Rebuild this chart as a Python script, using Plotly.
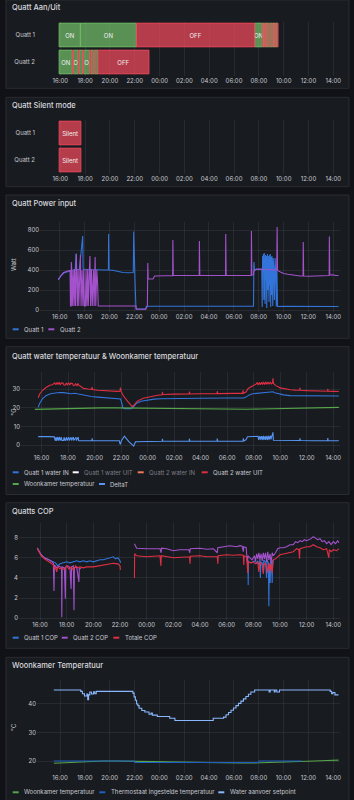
import plotly.graph_objects as go
from datetime import datetime, timedelta

# ---------------- data ----------------
state_rows = ["Quatt 1", "Quatt 2"]

q1_state_times = ["15:54", "17:37", "22:08", "07:40", "08:16", "08:20", "08:28", "08:31", "08:40",
                  "08:43", "08:52", "08:56", "09:05", "09:08", "09:18", "09:21", "09:28"]
q1_states = ["ON", "ON", "OFF", "ON", "OFF", "ON", "OFF", "ON", "OFF",
             "ON", "OFF", "ON", "OFF", "ON", "OFF", "ON", "OFF"]
q1_state_labels = ["ON", "ON", "OFF", "ON", "", "", "", "", "", "", "", "", "", "", "", "", ""]
q1_state_end = "09:33"

q2_state_times = ["15:54", "16:58", "17:03", "17:26", "17:31", "17:48", "17:53", "18:22",
                  "18:29", "18:41", "18:46", "19:01"]
q2_states = ["ON", "OFF", "ON", "OFF", "ON", "OFF", "ON", "OFF", "ON", "OFF", "ON", "OFF"]
q2_state_labels = ["ON", "", "O", "", "", "", "O", "", "", "", "", "OFF"]
q2_state_end = "23:09"

silent_start = ["15:54", "15:54"]
silent_end = ["17:40", "17:40"]
silent_label = "Silent"

pw_q1_t = ["15:53", "16:05", "16:20", "16:40", "17:00", "17:15", "17:19", "17:21", "17:35", "17:51",
           "17:53", "18:15", "18:40", "19:10", "19:40", "19:55", "19:56", "19:58", "20:15", "20:30",
           "20:45", "21:05", "21:30", "21:55", "21:57", "21:59", "22:01", "22:04", "22:08", "22:30",
           "22:55", "22:58", "00:00", "02:00", "04:00", "06:00", "07:35", "07:37", "07:40", "07:50",
           "08:05", "08:15", "08:17", "08:19", "08:21", "08:23", "08:25", "08:27", "08:29", "08:31",
           "08:33", "08:35", "08:37", "08:39", "08:42", "08:44", "08:46", "08:48", "08:50", "08:52",
           "08:54", "08:56", "08:58", "09:00", "09:02", "09:04", "09:06", "09:08", "09:10", "09:13",
           "09:16", "09:19", "09:22", "09:25", "09:28", "09:31", "10:00", "12:00", "14:25"]
pw_q1_v = [300, 340, 370, 388, 398, 402, 565, 405, 408, 740,
           410, 405, 402, 400, 400, 402, 760, 400, 398, 390,
           380, 375, 372, 375, 785, 520, 480, 250, 10, 8,
           10, 38, 38, 37, 38, 37, 38, 480, 400, 410,
           405, 410, 30, 540, 400, 560, 100, 570, 410, 60,
           550, 300, 540, 20, 560, 200, 540, 400, 80, 550,
           250, 560, 30, 530, 150, 540, 410, 40, 520, 400,
           100, 520, 400, 35, 420, 35, 36, 35, 35]

pw_q2_t = ["15:53", "16:05", "16:17", "16:35", "16:50", "16:52", "16:55", "16:56", "16:58", "17:01",
           "17:05", "17:09", "17:12", "17:16", "17:20", "17:22", "17:25", "17:29", "17:32", "17:37",
           "17:40", "17:43", "17:48", "17:52", "17:56", "17:59", "18:04", "18:07", "18:11", "18:15",
           "18:18", "18:23", "18:26", "18:29", "18:33", "18:37", "18:43", "18:46", "18:51", "18:54",
           "18:59", "19:03", "19:06", "20:00", "21:00", "22:08", "22:10", "22:55", "23:03", "23:05",
           "23:07", "23:30", "23:38", "00:30", "01:05", "01:06", "01:08", "02:00", "03:13", "03:14",
           "03:16", "04:30", "05:20", "05:21", "05:23", "06:30", "07:24", "07:25", "07:27", "07:35",
           "07:37", "07:45", "08:00", "08:30", "09:00", "09:27", "09:29", "09:31", "09:45", "10:00",
           "10:20", "10:40", "11:00", "11:20", "11:34", "11:35", "11:37", "12:00", "12:30", "13:00",
           "13:20", "13:40", "13:41", "13:43", "14:00", "14:10", "14:25"]
pw_q2_v = [307, 345, 373, 388, 395, 40, 40, 480, 400, 40,
           400, 40, 410, 40, 560, 400, 40, 410, 40, 405,
           550, 40, 400, 40, 410, 40, 40, 400, 40, 410,
           40, 400, 540, 40, 410, 40, 400, 40, 530, 40,
           400, 260, 40, 40, 40, 40, 8, 8, 40, 470,
           310, 310, 340, 342, 343, 700, 345, 345, 346, 690,
           346, 345, 345, 760, 345, 345, 346, 790, 350, 352,
           390, 405, 410, 405, 400, 400, 830, 395, 380, 365,
           358, 350, 342, 340, 340, 680, 340, 338, 340, 338,
           342, 345, 735, 350, 352, 345, 345]

wt_q1in_t = ["15:45", "15:52", "16:05", "16:20", "16:40", "17:00", "17:20", "17:40", "18:00", "18:15",
             "18:30", "18:45", "19:00", "19:20", "19:45", "20:15", "20:45", "21:15", "21:50", "21:58",
             "22:03", "22:08", "22:15", "22:45", "22:55", "23:10", "23:30", "00:00", "00:30", "01:00",
             "02:00", "04:00", "06:00", "07:15", "07:25", "07:40", "07:55", "08:15", "08:45", "09:15",
             "09:28", "09:35", "09:50", "10:15", "10:45", "11:30", "12:30", "13:30", "14:25"]
wt_q1in_v = [20.3, 22.5, 25.0, 26.5, 27.6, 28.1, 28.3, 28.2, 28.0, 27.6,
             27.9, 27.5, 27.3, 26.6, 26.1, 25.8, 25.5, 25.3, 25.1, 24.8,
             22.5, 20.0, 19.6, 19.6, 20.5, 22.5, 23.6, 24.3, 24.7, 24.9,
             25.1, 25.2, 25.3, 25.3, 25.8, 27.0, 27.6, 27.8, 28.0, 28.3,
             28.7, 28.2, 27.6, 27.0, 26.6, 26.5, 26.4, 26.4, 26.4]

wt_q2uit_t = ["15:45", "15:52", "16:05", "16:20", "16:40", "16:50", "17:00", "17:05", "17:10", "17:15",
              "17:20", "17:25", "17:30", "17:38", "17:42", "17:48", "17:52", "17:57", "18:02", "18:08",
              "18:12", "18:20", "18:24", "18:30", "18:34", "18:40", "18:45", "18:50", "18:55", "19:10",
              "19:30", "19:47", "19:49", "19:51", "20:15", "20:45", "21:15", "21:45", "21:55", "21:57",
              "22:00", "22:10", "22:30", "22:50", "23:00", "23:15", "23:40", "00:15", "00:45", "01:06",
              "01:07", "01:09", "02:00", "03:08", "03:09", "03:11", "04:00", "05:14", "05:15", "05:17",
              "06:30", "07:10", "07:12", "07:14", "07:25", "07:35", "07:50", "08:00", "08:10", "08:15",
              "08:20", "08:25", "08:30", "08:35", "08:40", "08:45", "08:50", "08:55", "09:00", "09:05",
              "09:10", "09:15", "09:20", "09:25", "09:27", "09:29", "09:40", "10:00", "10:20", "10:45",
              "11:10", "11:28", "11:29", "11:31", "12:00", "12:30", "13:00", "13:34", "13:35", "13:37",
              "14:00", "14:25"]
wt_q2uit_v = [25.5, 27.5, 29.5, 31.0, 32.3, 32.5, 33.5, 32.5, 33.7, 32.6,
              33.8, 32.4, 33.5, 33.3, 32.2, 32.3, 33.4, 32.5, 33.6, 32.3,
              33.3, 33.2, 32.0, 32.2, 33.0, 32.0, 33.2, 32.0, 31.8, 30.5,
              30.2, 30.0, 31.2, 29.9, 29.5, 29.2, 29.0, 28.9, 29.0, 31.0,
              29.0, 26.5, 23.5, 20.7, 21.8, 23.8, 25.2, 26.2, 26.8, 27.1,
              28.7, 27.2, 27.4, 27.5, 28.8, 27.5, 27.6, 27.7, 29.0, 27.7,
              27.8, 27.8, 29.5, 27.9, 28.5, 30.5, 31.5, 32.0, 32.8, 33.5,
              32.4, 33.7, 32.5, 33.8, 32.6, 33.9, 32.6, 34.0, 32.8, 34.0,
              32.8, 34.0, 32.9, 33.5, 36.0, 33.2, 32.0, 30.8, 30.2, 29.8,
              29.6, 29.5, 30.8, 29.5, 29.3, 29.2, 29.1, 29.0, 30.3, 29.0,
              28.9, 28.8]

room_t = ["15:30", "16:30", "17:30", "18:30", "19:30", "20:30", "21:30", "22:30", "23:30", "00:30",
          "01:30", "02:30", "03:30", "04:30", "05:30", "06:30", "07:30", "08:30", "09:30", "10:30",
          "11:30", "12:30", "13:30", "14:25"]
room_v = [19.2, 19.4, 19.7, 19.9, 20.0, 20.0, 20.0, 19.9, 19.8, 19.7,
          19.6, 19.5, 19.4, 19.4, 19.3, 19.3, 19.3, 19.4, 19.6, 19.7,
          19.9, 20.0, 20.2, 20.3]

delta_t = ["15:45", "16:00", "16:30", "16:58", "17:00", "17:02", "17:06", "17:08", "17:14", "17:16",
           "17:22", "17:24", "17:30", "17:32", "17:40", "17:42", "17:47", "17:54", "17:56", "18:04",
           "18:06", "18:14", "18:16", "18:24", "18:26", "18:36", "18:38", "18:46", "18:48", "18:55",
           "19:30", "19:48", "19:49", "19:51", "20:30", "21:30", "21:52", "21:56", "22:02", "22:15",
           "22:22", "22:35", "22:50", "22:57", "23:05", "00:00", "01:06", "01:07", "01:09", "03:08",
           "03:09", "03:11", "05:14", "05:15", "05:17", "07:12", "07:13", "07:15", "07:25", "07:32",
           "08:00", "08:10", "08:20", "08:22", "08:28", "08:30", "08:36", "08:38", "08:44", "08:46",
           "08:52", "08:54", "09:00", "09:02", "09:08", "09:10", "09:16", "09:18", "09:24", "09:27",
           "09:29", "10:00", "11:00", "11:28", "11:29", "11:31", "12:30", "13:34", "13:35", "13:37",
           "14:25"]
delta_v = [4.5, 4.6, 4.5, 4.4, 3.2, 2.3, 4.3, 2.3, 4.3, 2.4,
           4.3, 2.4, 4.2, 2.5, 2.5, 4.2, 2.3, 4.2, 2.4, 4.2,
           2.4, 4.2, 2.5, 4.3, 2.4, 4.2, 2.4, 4.3, 2.3, 2.3,
           2.3, 2.3, 3.6, 2.3, 2.3, 2.3, 2.3, 0.3, 2.5, 4.8,
           3.5, 1.8, 0.2, -0.6, 1.8, 2.0, 2.0, 3.3, 2.0, 2.0,
           3.4, 2.0, 2.0, 3.5, 2.0, 2.1, 3.6, 2.2, 2.8, 4.5,
           4.6, 4.7, 4.7, 2.8, 4.8, 2.9, 4.8, 2.7, 4.9, 2.8,
           4.8, 2.8, 4.9, 2.7, 4.9, 2.9, 5.0, 3.0, 5.0, 6.8,
           2.6, 2.6, 2.4, 2.4, 3.6, 2.4, 2.3, 2.3, 3.7, 2.3,
           2.3]

cop_q1_t = ["15:48", "15:55", "16:05", "16:20", "16:40", "17:00", "17:10", "17:20", "17:30", "17:45",
            "18:00", "18:15", "18:30", "18:45", "19:00", "19:15", "19:30", "19:45", "20:00", "20:15",
            "20:30", "20:45", "21:00", "21:15", "21:30", "21:40", "21:50", "22:00", "22:03", "03:00",
            "07:36", "07:37", "07:38", "07:50", "08:00", "08:10", "08:15", "08:20", "08:25", "08:30",
            "08:32", "08:34", "08:40", "08:45", "08:47", "08:55", "09:00", "09:02", "09:08", "09:10",
            "09:12", "09:16", "09:18", "09:22", "09:25", "09:27", "09:31"]
cop_q1_v = [6.9, 6.6, 6.3, 6.0, 5.8, 5.6, 5.5, 5.2, 5.4, 5.5,
            5.6, 5.5, 5.6, 5.7, 5.6, 5.7, 5.6, 5.7, 5.6, 5.7,
            5.8, 5.8, 5.9, 6.0, 6.1, 5.9, 6.0, 5.7, 5.5, None,
            5.8, 3.3, 5.6, 5.5, 5.6, 5.7, 5.4, 5.7, 5.3, 5.8,
            4.0, 5.6, 5.5, 4.6, 5.8, 5.6, 4.0, 5.8, 5.5, 1.2,
            5.4, 3.5, 5.7, 5.5, 3.5, 5.8, 5.6]

cop_q2_t = ["15:48", "15:55", "16:05", "16:20", "16:40", "17:00", "17:03", "17:05", "17:15", "17:25",
            "17:37", "17:38", "17:40", "17:50", "17:54", "17:56", "18:05", "18:15", "18:20", "18:22",
            "18:30", "18:33", "18:35", "18:45", "18:55", "18:57", "19:05", "21:00", "23:05", "23:07",
            "23:15", "00:00", "00:45", "01:00", "01:05", "01:07", "01:30", "02:00", "02:30", "03:10",
            "03:14", "03:16", "04:00", "04:30", "05:00", "05:18", "05:20", "05:40", "06:15", "06:45",
            "07:00", "07:10", "07:15", "07:17", "07:28", "07:33", "07:36", "07:45", "07:55", "08:05",
            "08:10", "08:15", "08:20", "08:25", "08:30", "08:35", "08:40", "08:45", "08:50", "08:55",
            "09:00", "09:05", "09:10", "09:15", "09:20", "09:25", "09:30", "09:40", "09:50", "10:00",
            "10:15", "10:30", "10:45", "11:00", "11:10", "11:20", "11:30", "11:40", "11:50", "12:00",
            "12:10", "12:20", "12:30", "12:40", "12:50", "13:00", "13:10", "13:20", "13:30", "13:40",
            "13:50", "14:00", "14:10", "14:20", "14:25"]
cop_q2_v = [7.0, 6.7, 6.3, 6.0, 5.8, 5.5, 2.7, 5.3, 5.0, 5.2,
            5.0, 0.1, 5.1, 5.0, 1.95, 5.1, 5.2, 5.0, 2.9, 5.1,
            5.2, 0.8, 5.0, 5.1, 3.6, 5.0, 4.9, None, 7.4, 7.3,
            6.95, 6.9, 6.95, 6.9, 6.5, 6.95, 6.9, 6.7, 6.8, 6.8,
            6.5, 6.9, 6.95, 6.85, 6.9, 6.5, 7.0, 7.1, 7.2, 7.1,
            7.2, 7.15, 6.6, 7.1, 7.0, 5.5, 6.2, 6.0, 5.8, 6.2,
            5.7, 6.4, 5.9, 6.5, 5.8, 6.4, 5.7, 6.5, 5.9, 6.5,
            5.6, 6.6, 5.8, 6.4, 5.5, 6.5, 6.2, 6.5, 6.9, 7.0,
            7.0, 7.1, 7.3, 7.3, 7.6, 7.5, 7.7, 7.6, 7.8, 7.7,
            7.8, 7.9, 8.1, 7.9, 7.8, 7.9, 7.6, 7.7, 7.4, 7.6,
            7.3, 7.6, 7.4, 7.7, 7.5]

cop_tot_t = ["15:48", "15:55", "16:05", "16:20", "16:40", "17:00", "17:05", "17:10", "17:15", "17:20",
             "17:30", "17:40", "17:50", "18:00", "18:10", "18:20", "18:30", "18:40", "18:50", "19:00",
             "19:15", "19:30", "20:00", "20:30", "21:00", "21:30", "21:50", "22:00", "22:02", "22:30",
             "23:05", "23:06", "23:15", "00:00", "00:30", "01:00", "01:04", "01:06", "02:00", "02:30",
             "03:13", "03:15", "03:17", "04:00", "04:30", "05:18", "05:20", "05:22", "06:00", "06:30",
             "07:00", "07:15", "07:17", "07:19", "07:30", "07:35", "07:37", "07:50", "08:00", "08:10",
             "08:20", "08:25", "08:30", "08:40", "08:45", "08:50", "09:00", "09:05", "09:10", "09:15",
             "09:20", "09:25", "09:30", "09:40", "10:00", "10:20", "10:45", "11:00", "11:15", "11:25",
             "11:28", "11:30", "11:45", "12:00", "12:15", "12:30", "12:45", "13:00", "13:15", "13:30",
             "13:40", "13:42", "13:50", "14:00", "14:15", "14:25"]
cop_tot_v = [6.9, 6.6, 6.2, 5.9, 5.6, 5.3, 4.9, 5.0, 4.6, 5.1,
             4.9, 5.0, 4.8, 5.2, 4.9, 5.1, 4.8, 5.2, 5.0, 5.1,
             5.0, 5.1, 5.1, 5.2, 5.3, 5.45, 5.4, 5.2, 4.8, None,
             4.0, 6.4, 6.2, 6.1, 6.15, 6.2, 5.2, 6.2, 6.0, 6.05,
             6.1, 5.4, 6.15, 6.2, 6.1, 6.1, 5.4, 6.2, 6.3, 6.25,
             6.3, 6.25, 5.3, 6.2, 6.1, 4.5, 5.6, 5.5, 5.6, 5.4,
             5.6, 4.6, 5.6, 5.3, 4.4, 5.5, 5.2, 4.5, 5.5, 4.7,
             5.4, 4.5, 5.8, 5.9, 6.3, 6.4, 6.5, 6.6, 6.9, 6.8,
             5.9, 6.9, 7.0, 7.1, 7.1, 7.3, 7.1, 7.0, 6.8, 6.9,
             6.0, 6.8, 6.6, 6.8, 6.7, 6.9]

thermo_t = ["15:30", "22:00", "22:01", "08:00", "08:01", "11:30"]
thermo_v = [20.0, 20.0, 19.5, 19.5, 20.0, 20.0]

setp_t = ["15:30", "17:40", "17:48", "17:58", "18:10", "18:14", "18:18", "18:24", "18:32", "18:42",
          "18:48", "18:55", "21:52", "21:58", "22:04", "22:10", "22:16", "22:22", "22:35", "22:50",
          "23:10", "23:20", "23:26", "23:50", "00:50", "01:15", "04:20", "05:10", "05:22", "05:34",
          "05:46", "05:58", "06:10", "06:22", "06:34", "06:46", "06:58", "07:10", "07:22", "07:40",
          "08:50", "08:55", "09:15", "09:19", "09:27", "09:40", "13:45", "13:52", "13:58", "14:08",
          "14:25"]
setp_v = [44.9, 44.4, 43.6, 42.8, 43.5, 41.5, 43.2, 44.2, 43.5, 44.3,
          43.6, 44.4, 43.8, 42.5, 41.3, 40.0, 39.4, 38.5, 37.7, 37.2,
          36.4, 36.8, 36.1, 35.6, 35.0, 34.2, 35.0, 35.4, 36.2, 37.0,
          37.8, 38.6, 39.4, 40.2, 41.0, 41.8, 42.6, 43.4, 44.2, 44.9,
          44.2, 44.9, 44.2, 44.9, 44.2, 44.9, 44.4, 43.6, 44.0, 43.2,
          43.2]

# ---------------- helpers ----------------
W, H = 354, 800
FONT = "Inter, 'Open Sans', sans-serif"
TXT = "#c8c9d1"
DIM = "#7d7f87"
TITLE = "#d8d9de"
GRID = "rgba(204,204,220,0.09)"

BLUE = "#3274D9"
PURPLE = "#A352CC"
RED = "#E02F44"
GREEN = "#56A64B"
LBLUE = "#5794F2"
DBLUE = "#1F60C4"
SBLUE = "#8AB8FF"
ON_FILL, ON_LINE = "rgba(115,191,105,0.72)", "rgba(115,191,105,0.95)"
OFF_FILL, OFF_LINE = "rgba(242,73,92,0.72)", "rgba(242,73,92,0.95)"

T16 = datetime(2024, 1, 15, 16, 0)


def ts(hm):
    h, m = map(int, hm.split(":"))
    return datetime(2024, 1, 15 if h >= 15 else 16, h, m)


def xp(px):
    return px / W


def yp(py):
    return 1 - py / H


def xrange_for(x16, x14, left, right):
    pph = (x14 - x16) / 22.0
    return [T16 + timedelta(hours=(left - x16) / pph), T16 + timedelta(hours=(right - x16) / pph)]


fig = go.Figure()

# ---- state timeline bars ----
def add_states(xa, ya, rows_data):
    groups = {"ON": dict(y=[], base=[], x=[], text=[]), "OFF": dict(y=[], base=[], x=[], text=[])}
    for row, starts, states, labels, end in rows_data:
        ends = starts[1:] + [end]
        for s, e, st, lb in zip(starts, ends, states, labels):
            g = groups[st]
            g["y"].append(row)
            g["base"].append(ts(s).strftime("%Y-%m-%d %H:%M"))
            g["x"].append((ts(e) - ts(s)).total_seconds() * 1000)
            g["text"].append(lb)
    for st, fill, line in (("ON", ON_FILL, ON_LINE), ("OFF", OFF_FILL, OFF_LINE)):
        g = groups[st]
        if not g["y"]:
            continue
        fig.add_trace(go.Bar(orientation="h", y=g["y"], base=g["base"], x=g["x"], text=g["text"],
                             textposition="inside", insidetextanchor="middle", textangle=0,
                             textfont=dict(size=6, color="#f0f0f0", family=FONT),
                             marker=dict(color=fill, line=dict(color=line, width=0.8)),
                             width=0.88, xaxis=xa, yaxis=ya, showlegend=False, hoverinfo="skip"))


add_states("x", "y", [
    (state_rows[0], q1_state_times, q1_states, q1_state_labels, q1_state_end),
    (state_rows[1], q2_state_times, q2_states, q2_state_labels, q2_state_end),
])
add_states("x2", "y2", [
    (state_rows[0], [silent_start[0]], ["OFF"], [silent_label], silent_end[0]),
    (state_rows[1], [silent_start[1]], ["OFF"], [silent_label], silent_end[1]),
])


def line(t, v, color, xa, ya, shape="linear", width=1.1):
    fig.add_trace(go.Scatter(x=[ts(s) for s in t], y=v, mode="lines",
                             line=dict(color=color, width=width, shape=shape),
                             xaxis=xa, yaxis=ya, showlegend=False, hoverinfo="skip"))


line(pw_q1_t, pw_q1_v, BLUE, "x3", "y3")
line(pw_q2_t, pw_q2_v, PURPLE, "x3", "y3")

line(wt_q1in_t, wt_q1in_v, BLUE, "x4", "y4")
line(wt_q2uit_t, wt_q2uit_v, RED, "x4", "y4")
line(room_t, room_v, GREEN, "x4", "y4")
line(delta_t, delta_v, LBLUE, "x4", "y4")

line(cop_q1_t, cop_q1_v, BLUE, "x5", "y5")
line(cop_q2_t, cop_q2_v, PURPLE, "x5", "y5")
line(cop_tot_t, cop_tot_v, RED, "x5", "y5")

line(room_t, room_v, GREEN, "x6", "y6")
line(thermo_t, thermo_v, DBLUE, "x6", "y6")
line(setp_t, setp_v, SBLUE, "x6", "y6", shape="hv")

# ---- axes ----
# (x16 px, x14 px, left px, right px, top px, bottom px)
panels = {
    1: (60.3, 333.3, 36, 340, 21.5, 75.5),
    2: (60.3, 333.3, 36, 340, 119.5, 173.5),
    3: (59.7, 333.3, 40, 340, 222, 312),
    4: (41.5, 333.3, 21, 340, 371.7, 453),
    5: (40.0, 333.3, 19, 340, 522.5, 620.3),
    6: (60.0, 333.3, 37, 340, 680, 773),
}
yconf = {
    1: dict(type="category", categoryorder="array", categoryarray=[state_rows[1], state_rows[0]],
            range=[-0.5, 1.5], showgrid=False),
    2: dict(type="category", categoryorder="array", categoryarray=[state_rows[1], state_rows[0]],
            range=[-0.5, 1.5], showgrid=False),
    3: dict(range=[-20, 880], dtick=200, tick0=0, showgrid=True),
    4: dict(range=[-4.3, 39.5], dtick=10, tick0=0, showgrid=True),
    5: dict(range=[-0.2, 9.5], dtick=2, tick0=0, showgrid=True),
    6: dict(range=[15.8, 48.4], dtick=10, tick0=0, showgrid=True),
}
tickfont = dict(size=6, color=TXT, family=FONT)
lay = {}
for i, (x16, x14, left, right, top, bottom) in panels.items():
    sx = "" if i == 1 else str(i)
    lay["xaxis" + sx] = dict(type="date", range=xrange_for(x16, x14, left, right),
                             domain=[xp(left), xp(right)], anchor="y" + sx,
                             tickformat="%H:%M", dtick=7200000, tick0="2024-01-15 16:00",
                             showgrid=True, gridcolor=GRID, gridwidth=1, zeroline=False,
                             showline=False, ticks="", tickfont=tickfont, fixedrange=True)
    yc = dict(domain=[yp(bottom), yp(top)], anchor="x" + sx, zeroline=False, showline=False,
              ticks="", tickfont=tickfont, gridcolor=GRID, gridwidth=1, fixedrange=True)
    yc.update(yconf[i])
    lay["yaxis" + sx] = yc

# ---- panels ----
panel_boxes = [(0, 88.3), (97.3, 186.7), (195, 338.3), (346.7, 494.5), (502.7, 648.3), (657.3, 806)]
shapes = []
for y0, y1 in panel_boxes:
    shapes.append(dict(type="rect", xref="paper", yref="paper", x0=xp(6), x1=xp(349),
                       y0=yp(y1), y1=yp(y0), fillcolor="#181b1f",
                       line=dict(color="#2a2c31", width=1), layer="below"))

annotations = []


def ann(text, x, y, size=6, color=TXT, angle=0, weight=None, xanchor="left"):
    f = dict(size=size, color=color, family=FONT)
    if weight:
        f["weight"] = weight
    annotations.append(dict(text=text, x=xp(x), y=yp(y), xref="paper", yref="paper",
                            showarrow=False, xanchor=xanchor, yanchor="middle",
                            font=f, textangle=angle))


titles = [("Quatt Aan/Uit", 7.5), ("Quatt Silent mode", 105.5), ("Quatt Power input", 203.5),
          ("Quatt water temperatuur & Woonkamer temperatuur", 356.5), ("Quatts COP", 511),
          ("Woonkamer Temperatuur", 665.5)]
for t, y in titles:
    ann(t, 9.5, y, size=7.5, color=TITLE, weight=500)

ann("Watt", 13, 265, angle=-90, xanchor="center")
ann("°C", 13, 411.5, angle=-90, xanchor="center")
ann("°C", 12.7, 727, angle=-90, xanchor="center")

legends = [
    (329.3, [(12.7, BLUE, "Quatt 1", TXT), (48.3, PURPLE, "Quatt 2", TXT)]),
    (472.3, [(12.7, BLUE, "Quatt 1 water IN", TXT), (72.7, "#FFFFFF", "Quatt 1 water UIT", DIM),
             (137.7, "#F2785C", "Quatt 2 water IN", DIM), (201.7, RED, "Quatt 2 water UIT", TXT)]),
    (484.0, [(12.7, GREEN, "Woonkamer temperatuur", TXT), (99.0, LBLUE, "DeltaT", TXT)]),
    (637.7, [(12.7, BLUE, "Quatt 1 COP", TXT), (61.7, PURPLE, "Quatt 2 COP", TXT),
             (113.3, RED, "Totale COP", TXT)]),
    (792.3, [(12.7, GREEN, "Woonkamer temperatuur", TXT),
             (99.3, DBLUE, "Thermostaat ingestelde temperatuur", TXT),
             (218.3, SBLUE, "Water aanvoer setpoint", TXT)]),
]
for y, items in legends:
    for x, col, label, tcol in items:
        shapes.append(dict(type="line", xref="paper", yref="paper", x0=xp(x), x1=xp(x + 6),
                           y0=yp(y), y1=yp(y), line=dict(color=col, width=2)))
        ann(label, x + 9.5, y, size=6, color=tcol)

fig.update_layout(
    width=W, height=H, margin=dict(l=0, r=0, t=0, b=0),
    paper_bgcolor="#111217", plot_bgcolor="rgba(0,0,0,0)",
    barmode="overlay", showlegend=False, hovermode=False,
    uniformtext=dict(minsize=6, mode="show"),
    font=dict(family=FONT, color=TXT, size=6),
    shapes=shapes, annotations=annotations, **lay,
)

fig.write_html("out.html", config={"displayModeBar": False})
